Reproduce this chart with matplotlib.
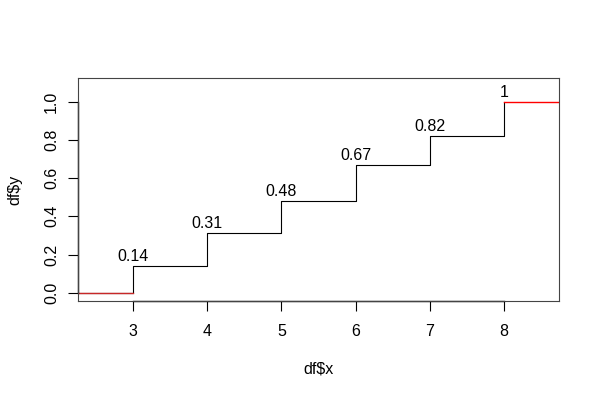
import numpy as np
import matplotlib
matplotlib.use("Agg")
import matplotlib.pyplot as plt

plt.rcParams['font.family'] = ['Liberation Sans', 'DejaVu Sans']

# cumulative values at each x
x = [3, 4, 5, 6, 7, 8]
y = [0.14, 0.31, 0.48, 0.67, 0.82, 1.0]
labels = ['0.14', '0.31', '0.48', '0.67', '0.82', '1']
yticks = [0.0, 0.2, 0.4, 0.6, 0.8, 1.0]
xlim = (2.26, 8.74)
ylim = (-0.043, 1.123)

FS = 11.5
fig = plt.figure(figsize=(6, 4), dpi=100)
ax = fig.add_axes([0.13, 0.2475, 0.802, 0.5575])

# step line (black), red end segments on top
ax.step([xlim[0]] + x, [0] + y, where='post', color='black', lw=0.8)
ax.plot([xlim[0], x[0]], [0, 0], color='#c82828', lw=1.0)
ax.plot([x[-1], xlim[1]], [y[-1], y[-1]], color='red', lw=1.0)

for xi, yi, lab in zip(x, y, labels):
    ax.annotate(lab, (xi, yi), xytext=(0, 3.6), textcoords='offset points',
                ha='center', va='baseline', fontsize=FS)

# R-style axis lines spanning only the tick range
ax.plot([x[0], x[-1]], [ylim[0], ylim[0]], color='black', lw=1.0, clip_on=False)
ax.plot([xlim[0], xlim[0]], [yticks[0], yticks[-1]], color='black', lw=1.0, clip_on=False)

ax.set_xlim(*xlim)
ax.set_ylim(*ylim)
ax.set_xticks(x)
ax.set_yticks(yticks)
ax.set_yticklabels(['%.1f' % v for v in yticks], rotation=90, va='center')
ax.tick_params(direction='out', length=6.9, width=0.8, labelsize=FS)
ax.tick_params(axis='x', pad=10)
ax.tick_params(axis='y', pad=6.8)
for s in ax.spines.values():
    s.set_linewidth(0.8)
    s.set_color('#444444')
ax.set_xlabel('df$x', fontsize=FS, labelpad=16)
ax.set_ylabel('df$y', fontsize=FS, labelpad=15.5)

fig.savefig('out.png', dpi=100)
